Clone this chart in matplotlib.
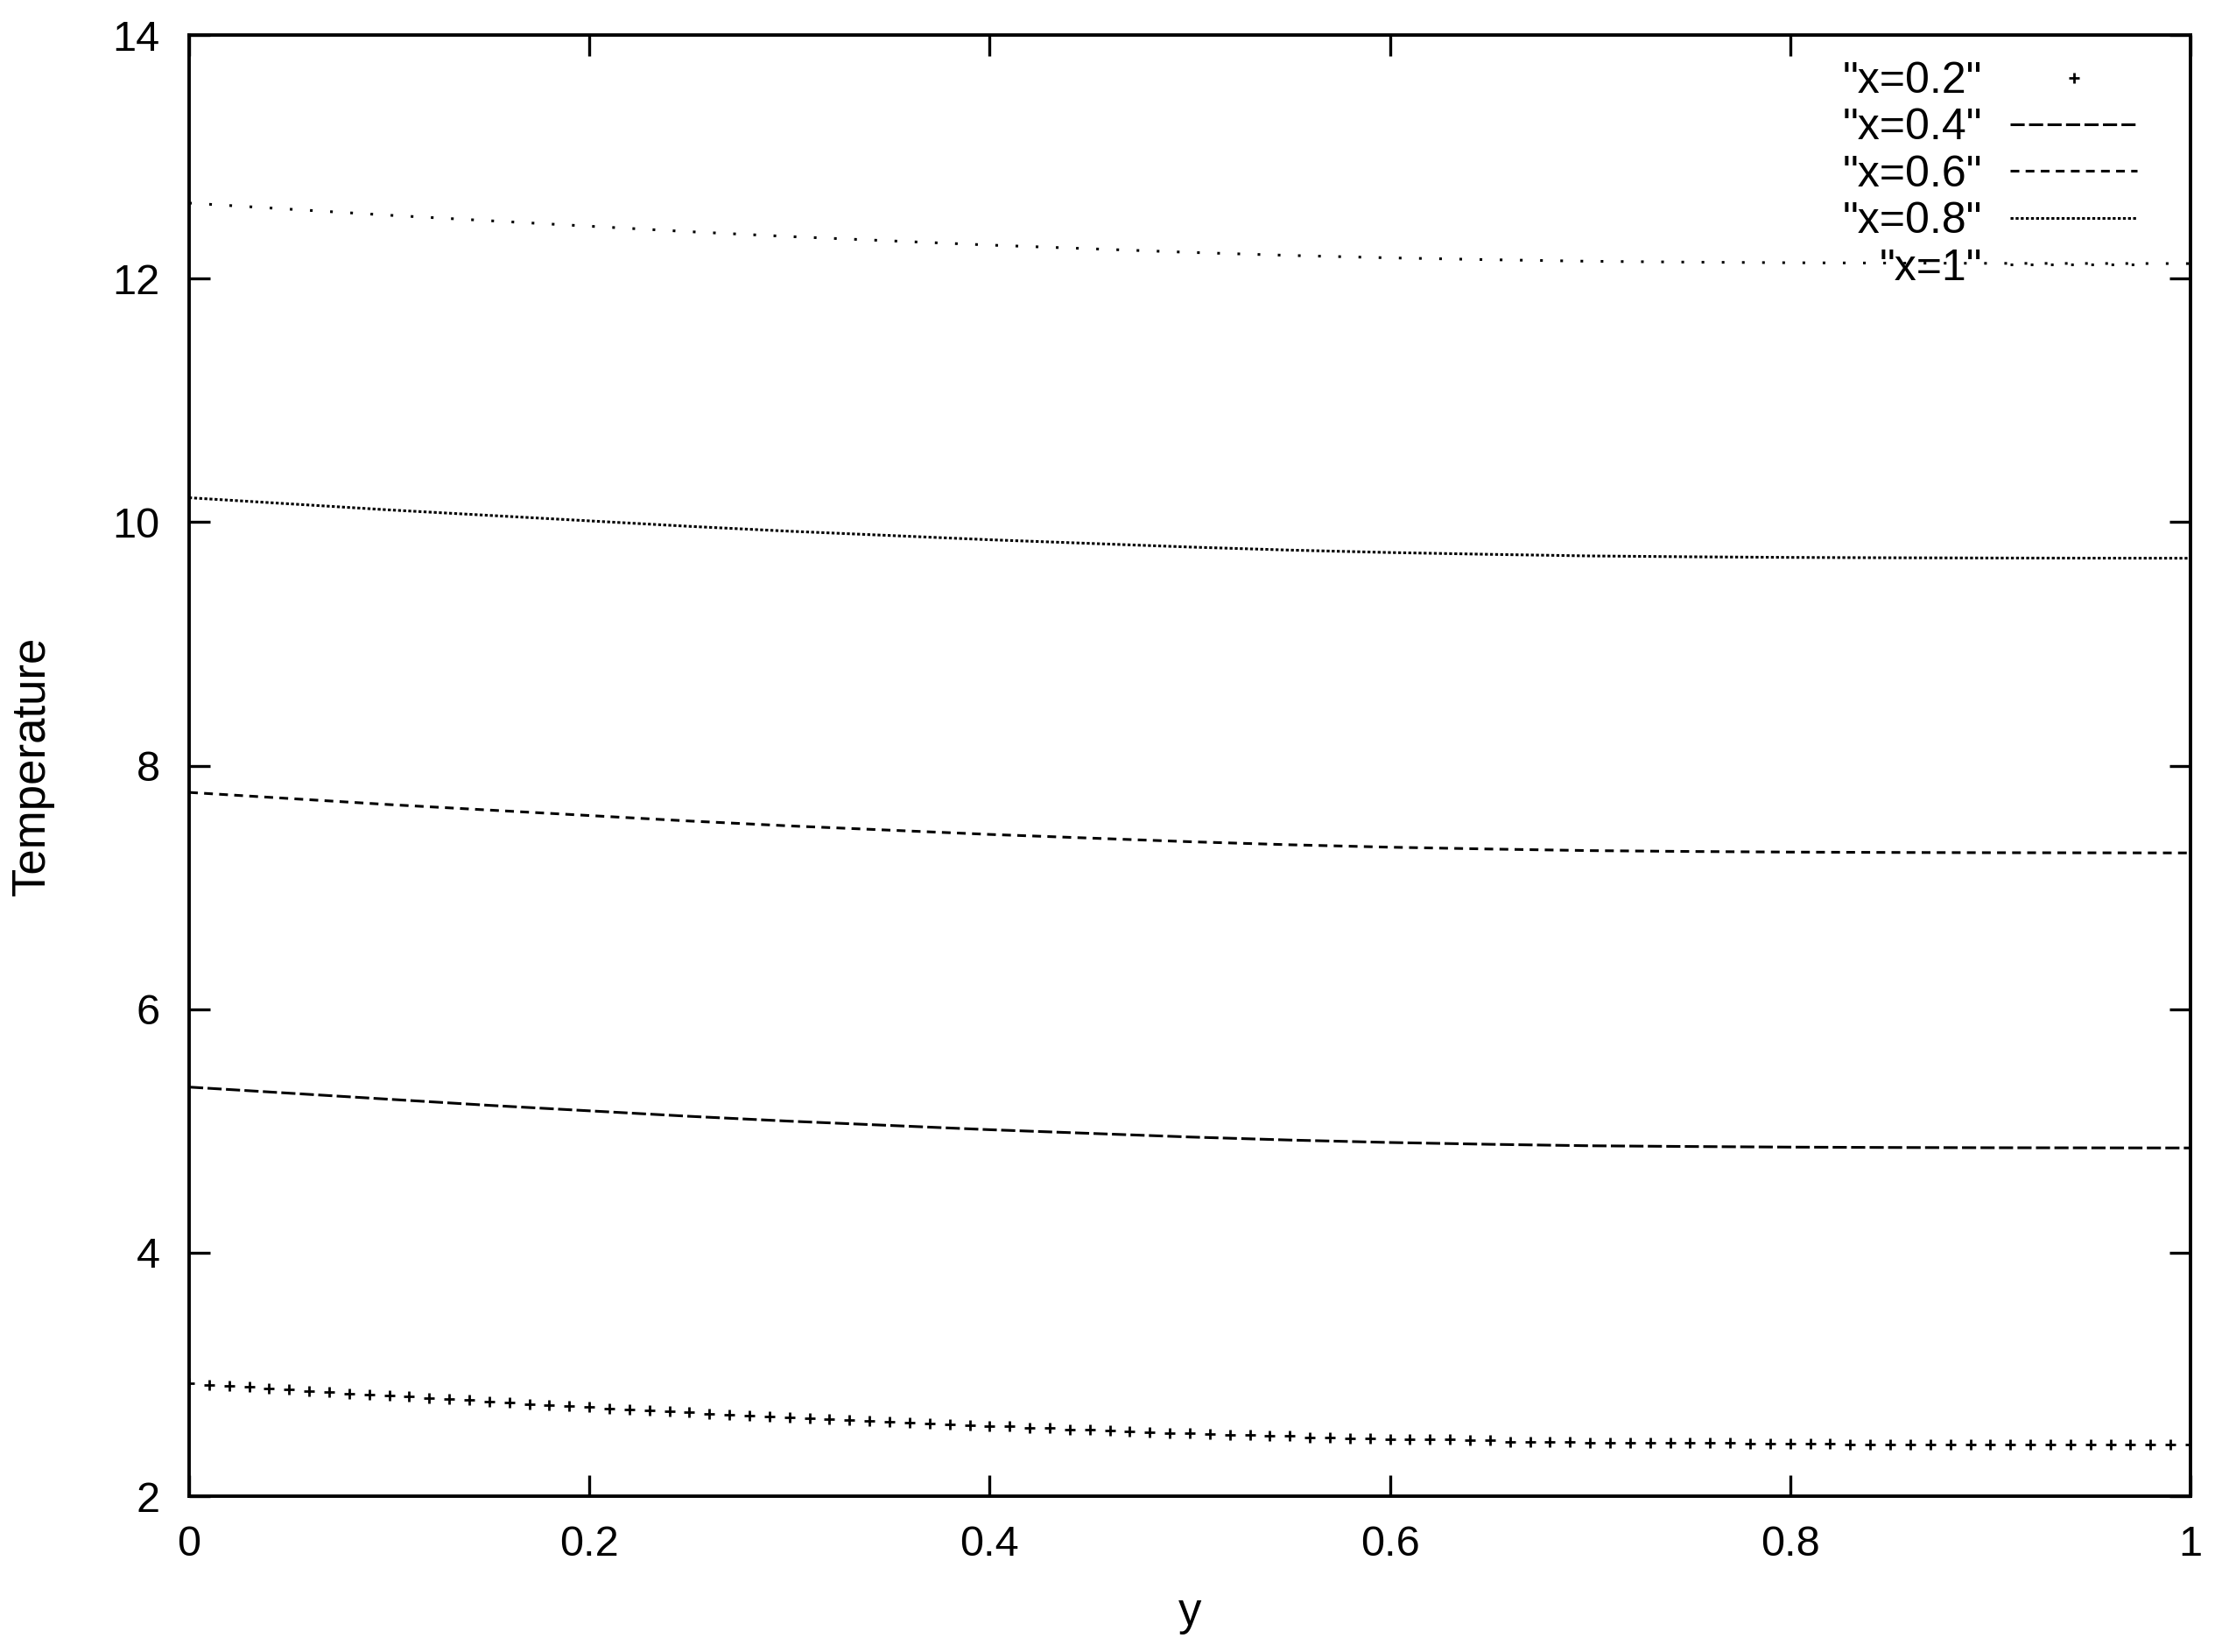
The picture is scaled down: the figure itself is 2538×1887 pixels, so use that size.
import matplotlib
matplotlib.use("Agg")
import matplotlib.pyplot as plt
import numpy as np

plt.rcParams['font.family'] = ['Liberation Sans', 'DejaVu Sans']
plt.rcParams['lines.scale_dashes'] = False

# y positions: 0.01 step for the "+" series, 0.05 step for the line series
y_fine = np.round(np.arange(101) * 0.01, 2)
y_coarse = np.round(np.arange(21) * 0.05, 2)

t_02 = [2.928, 2.914, 2.906, 2.897, 2.885, 2.878, 2.866, 2.856, 2.842, 2.835,
        2.828, 2.820, 2.806, 2.799, 2.789, 2.777, 2.770, 2.756, 2.749, 2.741,
        2.732, 2.722, 2.713, 2.706, 2.698, 2.689, 2.677, 2.667, 2.660, 2.653,
        2.648, 2.641, 2.634, 2.627, 2.617, 2.612, 2.607, 2.600, 2.593, 2.586,
        2.579, 2.572, 2.564, 2.562, 2.550, 2.545, 2.538, 2.533, 2.524, 2.519,
        2.517, 2.514, 2.507, 2.502, 2.495, 2.493, 2.485, 2.485, 2.478, 2.478,
        2.471, 2.471, 2.466, 2.466, 2.461, 2.457, 2.449, 2.449, 2.449, 2.449,
        2.442, 2.442, 2.442, 2.442, 2.438, 2.438, 2.438, 2.438, 2.430, 2.430,
        2.430, 2.430, 2.430, 2.428, 2.428, 2.428, 2.428, 2.428, 2.428, 2.428,
        2.426, 2.426, 2.426, 2.426, 2.426, 2.426, 2.426, 2.426, 2.426, 2.426,
        2.426]
t_04 = [5.36, 5.31, 5.26, 5.21, 5.165, 5.12, 5.08, 5.045, 5.01, 4.98, 4.95,
        4.925, 4.905, 4.89, 4.878, 4.872, 4.867, 4.864, 4.862, 4.861, 4.86]
t_06 = [7.78, 7.73, 7.68, 7.635, 7.59, 7.545, 7.505, 7.47, 7.435, 7.405, 7.375,
        7.35, 7.33, 7.315, 7.302, 7.295, 7.29, 7.287, 7.285, 7.284, 7.283]
t_08 = [10.20, 10.15, 10.10, 10.055, 10.01, 9.965, 9.925, 9.89, 9.855, 9.825,
        9.795, 9.77, 9.75, 9.735, 9.722, 9.715, 9.71, 9.707, 9.705, 9.704, 9.703]
t_10 = [12.62, 12.57, 12.52, 12.475, 12.43, 12.385, 12.345, 12.31, 12.275,
        12.245, 12.215, 12.19, 12.17, 12.155, 12.142, 12.135, 12.13, 12.127,
        12.125, 12.124, 12.123]

labels = ['"x=0.2"', '"x=0.4"', '"x=0.6"', '"x=0.8"', '"x=1"']
xticks = [0, 0.2, 0.4, 0.6, 0.8, 1]
xtick_labels = ['0', '0.2', '0.4', '0.6', '0.8', '1']
yticks = [2, 4, 6, 8, 10, 12, 14]

tick_fs = 17.5
leg_fs = 18
lab_fs = 19

fig = plt.figure(figsize=(12.69, 9.435), dpi=200)
ax = fig.add_axes([0.0851, 0.0943, 0.9007, 0.8845])

lw = 1.1
ax.plot(y_fine, t_02, linestyle='none', marker='+', markersize=4.5,
        markeredgewidth=1.0, color='black', label=labels[0])
ax.plot(y_coarse, t_04, color='black', lw=lw, dashes=(5.8, 1.8),
        dash_capstyle='butt', label=labels[1])
ax.plot(y_coarse, t_06, color='black', lw=lw, dashes=(3.6, 2.6),
        dash_capstyle='butt', label=labels[2])
ax.plot(y_coarse, t_08, color='black', lw=lw, dashes=(1.2, 0.9),
        dash_capstyle='butt', label=labels[3])
ax.plot(y_coarse, t_10, color='black', lw=lw, dashes=(1.1, 7.2),
        dash_capstyle='butt', label=labels[4])

ax.set_xlim(0, 1)
ax.set_ylim(2, 14)
ax.set_xticks(xticks)
ax.set_xticklabels(xtick_labels)
ax.set_yticks(yticks)

for s in ax.spines.values():
    s.set_linewidth(1.4)
ax.tick_params(direction='in', length=8.6, width=1.2, top=True, right=True,
               labelsize=tick_fs, pad=12)

ax.set_xlabel('y', fontsize=lab_fs)
ax.set_ylabel('Temperature', fontsize=lab_fs)
ax.xaxis.label.set_va('baseline')
ax.yaxis.label.set_va('baseline')
ax.xaxis.set_label_coords(0.5, -0.0881)
ax.yaxis.set_label_coords(-0.0722, 0.5)

leg = ax.legend(loc='upper right', bbox_to_anchor=(0.9733, 0.982),
                frameon=False, markerfirst=False, fontsize=leg_fs,
                handlelength=2.89, handletextpad=0.64, labelspacing=0.148,
                borderpad=0, borderaxespad=0, numpoints=1)

fig.savefig('out.png', dpi=200)
